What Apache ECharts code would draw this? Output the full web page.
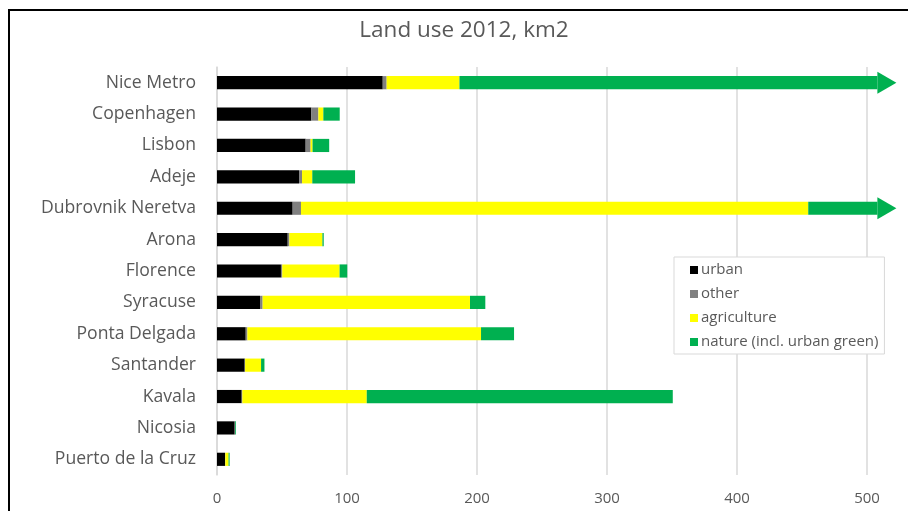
<!DOCTYPE html>
<html lang="en">
<head>
<meta charset="UTF-8">
<title>Land use 2012, km2</title>
<script src="https://cdn.jsdelivr.net/npm/echarts@6/dist/echarts.min.js"></script>
<style>
body{margin:0;background:#fff;overflow:hidden}
#frame{position:absolute;left:8px;top:9px;width:1000px;height:600px;border-left:2px solid #000;border-top:2px solid #000}
#main{position:absolute;left:0;top:0;width:908px;height:511px}
</style>
</head>
<body>
<div id="frame"></div>
<div id="main"></div>
<script type="text/javascript">
var cities = ['Nice Metro', 'Copenhagen', 'Lisbon', 'Adeje', 'Dubrovnik Neretva', 'Arona',
    'Florence', 'Syracuse', 'Ponta Delgada', 'Santander', 'Kavala', 'Nicosia', 'Puerto de la Cruz'];
var urban       = [127.5, 72.6, 68.2, 63.1, 58.2, 54.4, 49.2, 33.1, 22.1, 21.3, 19.0, 13.6, 6.2];
var other       = [3.0, 5.4, 3.8, 2.3, 6.4, 1.3, 1.0, 2.0, 1.3, 0.3, 0.5, 0.4, 0.2];
var agriculture = [56.0, 3.8, 1.5, 7.9, 390.2, 25.4, 44.1, 159.5, 179.7, 12.3, 95.7, 0, 2.5];
var nature      = [321.5, 12.6, 12.8, 32.9, 53.2, 1.0, 5.9, 11.8, 25.4, 2.6, 235.4, 0.6, 0.8];
// rows that run off the axis get an arrow head
var overflow = ['Nice Metro', 'Dubrovnik Neretva'];
var xTicks = [0, 100, 200, 300, 400, 500];

var grey = '#595959';
var font = '"Open Sans", sans-serif';

function barSeries(name, data, color) {
    return {
        name: name,
        type: 'bar',
        stack: 'total',
        data: data,
        clip: false,
        barCategoryGap: '58%',
        itemStyle: {color: color},
        emphasis: {disabled: true}
    };
}

var arrowData = overflow.map(function (c) {
    var i = cities.indexOf(c);
    return [urban[i] + other[i] + agriculture[i] + nature[i], i];
});

var myChart = echarts.init(document.getElementById('main'));
myChart.setOption({
    animation: false,
    textStyle: {fontFamily: font},
    title: {
        text: 'Land use 2012, km2',
        left: 459,
        textAlign: 'center',
        top: 14,
        textStyle: {color: grey, fontSize: 22.5, fontWeight: 'normal', fontFamily: font}
    },
    legend: {
        orient: 'vertical',
        left: 674,
        top: 257,
        padding: [4, 6, 3, 16],
        itemWidth: 8,
        itemHeight: 8,
        itemGap: 6,
        icon: 'rect',
        borderColor: '#d9d9d9',
        borderWidth: 1,
        backgroundColor: '#fff',
        data: ['urban', 'other', 'agriculture', 'nature (incl. urban green)'],
        textStyle: {color: grey, fontSize: 15, lineHeight: 18, padding: [0, 0, 0, -2], fontFamily: font}
    },
    grid: {left: 217, right: 41, top: 67, bottom: 36},
    xAxis: {
        type: 'value',
        min: xTicks[0],
        max: xTicks[xTicks.length - 1],
        interval: 100,
        axisLine: {show: false},
        axisTick: {show: false},
        splitLine: {lineStyle: {color: '#d9d9d9', width: 1.5}},
        axisLabel: {color: grey, fontSize: 15, margin: 16, fontFamily: font}
    },
    yAxis: {
        type: 'category',
        inverse: true,
        data: cities,
        axisLine: {lineStyle: {color: '#d9d9d9', width: 1.5}},
        axisTick: {show: false},
        axisLabel: {color: grey, fontSize: 17.6, margin: 21, fontFamily: font}
    },
    series: [
        barSeries('urban', urban, '#000000'),
        barSeries('other', other, '#808080'),
        barSeries('agriculture', agriculture, '#ffff00'),
        barSeries('nature (incl. urban green)', nature, '#00b050'),
        {
            type: 'custom',
            clip: false,
            silent: true,
            data: arrowData,
            renderItem: function (params, api) {
                var p = api.coord([api.value(0), api.value(1)]);
                return {
                    type: 'polygon',
                    shape: {points: [[p[0], p[1] - 11], [p[0] + 19, p[1]], [p[0], p[1] + 11]]},
                    style: {fill: '#00b050'}
                };
            }
        }
    ]
});
</script>
</body>
</html>
